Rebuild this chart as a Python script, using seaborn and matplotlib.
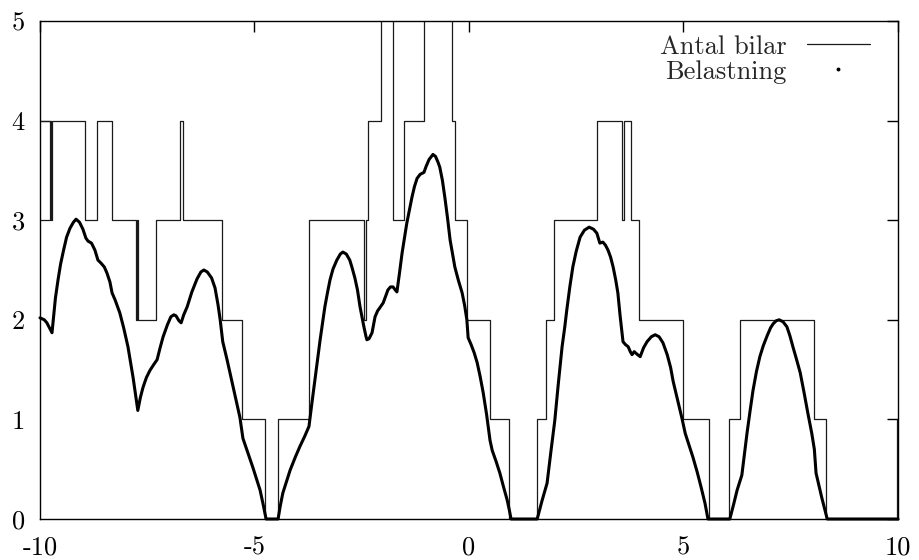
import numpy as np
import pandas as pd
import matplotlib
matplotlib.use("Agg")
import matplotlib.pyplot as plt
from matplotlib.lines import Line2D
import seaborn as sns

# Antal bilar (step series, value holds from x onward; order kept as in the data)
bilar_x = [-10, -9.77, -10, -9.74, -9.72, -8.95, -8.67, -8.32, -7.76, -7.74, -7.72,
           -7.30, -6.74, -6.67, -5.76, -5.29, -4.76, -4.45, -3.73, -2.45, -2.41,
           -2.35, -2.05, -1.77, -1.52, -1.05, -0.40, -0.33, -0.05, 0.49, 0.93,
           1.59, 1.80, 1.98, 2.98, 3.57, 3.61, 3.78, 3.96, 4.99, 5.59, 6.06, 6.32,
           8.04, 8.32, 9.98, 10]
bilar_y = [3, 4, 4, 3, 4, 3, 4, 3, 2, 3, 2,
           3, 4, 3, 2, 1, 0, 1, 3, 2, 3,
           4, 6, 3, 4, 6, 4, 3, 2, 1, 0,
           1, 2, 3, 4, 3, 4, 3, 2, 1, 0, 1, 2,
           1, 0, 1, 1]

# Belastning
last_x = [-10.00, -9.90, -9.84, -9.78, -9.72, -9.68, -9.64, -9.58, -9.52, -9.45,
          -9.38, -9.30, -9.22, -9.16, -9.08, -9.00, -8.93, -8.88, -8.80, -8.72,
          -8.65, -8.58, -8.50, -8.44, -8.37, -8.32, -8.25, -8.14, -8.05, -7.95,
          -7.83, -7.72,
          -7.66, -7.60, -7.52, -7.44, -7.35, -7.27, -7.20, -7.13, -7.03, -6.95,
          -6.88, -6.83, -6.76, -6.71, -6.65, -6.57, -6.46, -6.34, -6.25, -6.18,
          -6.10, -6.00, -5.92, -5.85, -5.80, -5.74, -5.64, -5.50, -5.34, -5.27,
          -5.15, -5.04, -4.95, -4.87, -4.80, -4.73,
          -4.45, -4.40, -4.34, -4.25, -4.17, -4.05, -3.94, -3.83, -3.73, -3.66,
          -3.59, -3.53, -3.47, -3.41, -3.36, -3.30, -3.24, -3.17, -3.08, -3.00,
          -2.94, -2.86, -2.78, -2.73, -2.66, -2.60, -2.54, -2.49, -2.45, -2.40,
          -2.38, -2.33, -2.26, -2.19, -2.13, -2.08, -2.00, -1.94, -1.89, -1.83,
          -1.77, -1.72, -1.68, -1.62, -1.56, -1.50, -1.45, -1.39, -1.33, -1.27,
          -1.21, -1.14, -1.05, -1.00, -0.93, -0.84, -0.78, -0.72, -0.68, -0.62,
          -0.56, -0.50, -0.44, -0.38, -0.33, -0.25, -0.16, -0.10, -0.05, -0.02,
          0.05, 0.12, 0.19, 0.26, 0.33, 0.41, 0.49, 0.54, 0.63, 0.72,
          0.80, 0.89, 0.94, 0.98,
          1.59, 1.70, 1.82, 1.91, 2.00, 2.08, 2.17, 2.23, 2.28, 2.35,
          2.42, 2.50, 2.59, 2.69, 2.80, 2.90, 2.98, 3.05, 3.12, 3.18,
          3.24, 3.30, 3.36, 3.42, 3.47, 3.52, 3.57, 3.59, 3.65, 3.71,
          3.76, 3.80, 3.85, 3.93, 3.99, 4.07, 4.15, 4.25, 4.34, 4.43,
          4.52, 4.62, 4.70, 4.76, 4.87, 4.97, 5.04, 5.13, 5.22, 5.32,
          5.41, 5.50, 5.57,
          6.08, 6.17, 6.25, 6.36, 6.42, 6.48, 6.55, 6.62, 6.70, 6.78,
          6.86, 6.95, 7.03, 7.09, 7.16, 7.23, 7.32, 7.41, 7.48, 7.55,
          7.63, 7.72, 7.81, 7.90, 7.99, 8.05, 8.09, 8.16, 8.22, 8.29,
          8.35, 10.00]
last_y = [2.02, 2.00, 1.97, 1.92, 1.87, 2.05, 2.22, 2.40, 2.56, 2.70,
          2.83, 2.92, 2.98, 3.01, 2.98, 2.91, 2.82, 2.79, 2.77, 2.70,
          2.60, 2.57, 2.53, 2.47, 2.38, 2.27, 2.20, 2.07, 1.92, 1.73,
          1.42, 1.09,
          1.22, 1.32, 1.42, 1.49, 1.55, 1.60, 1.72, 1.83, 1.95, 2.03,
          2.05, 2.04, 1.99, 1.97, 2.05, 2.13, 2.28, 2.41, 2.48, 2.50,
          2.48, 2.42, 2.32, 2.15, 2.00, 1.78, 1.60, 1.33, 1.02, 0.81,
          0.66, 0.52, 0.40, 0.29, 0.15, 0.00,
          0.00, 0.13, 0.26, 0.38, 0.49, 0.62, 0.73, 0.83, 0.93, 1.17,
          1.40, 1.60, 1.80, 1.98, 2.13, 2.27, 2.40, 2.51, 2.60, 2.66,
          2.68, 2.66, 2.60, 2.53, 2.42, 2.30, 2.13, 2.02, 1.93, 1.83,
          1.80, 1.81, 1.87, 2.03, 2.09, 2.12, 2.17, 2.24, 2.30, 2.33,
          2.33, 2.30, 2.28, 2.47, 2.67, 2.83, 2.97, 3.10, 3.23, 3.34,
          3.42, 3.46, 3.48, 3.54, 3.61, 3.66, 3.64, 3.58, 3.53, 3.40,
          3.22, 3.02, 2.80, 2.65, 2.53, 2.40, 2.27, 2.14, 2.00, 1.82,
          1.75, 1.67, 1.57, 1.43, 1.27, 1.05, 0.79, 0.69, 0.58, 0.46,
          0.33, 0.19, 0.09, 0.00,
          0.00, 0.18, 0.36, 0.68, 0.99, 1.35, 1.73, 1.92, 2.10, 2.33,
          2.53, 2.69, 2.83, 2.90, 2.93, 2.91, 2.87, 2.77, 2.78, 2.75,
          2.70, 2.63, 2.53, 2.40, 2.27, 2.05, 1.85, 1.78, 1.75, 1.73,
          1.68, 1.65, 1.68, 1.65, 1.63, 1.72, 1.78, 1.83, 1.85, 1.83,
          1.77, 1.65, 1.52, 1.38, 1.18, 1.00, 0.86, 0.74, 0.62, 0.47,
          0.32, 0.16, 0.00,
          0.00, 0.15, 0.29, 0.44, 0.65, 0.86, 1.08, 1.29, 1.48, 1.63,
          1.74, 1.84, 1.92, 1.96, 1.99, 2.00, 1.98, 1.93, 1.84, 1.73,
          1.61, 1.47, 1.27, 1.06, 0.86, 0.70, 0.46, 0.33, 0.22, 0.10,
          0.00, 0.00]

x_ticks = [-10, -5, 0, 5, 10]
x_labels = ["-10", "-5", "0", "5", "10"]
y_ticks = [0, 1, 2, 3, 4, 5]
y_labels = ["0", "1", "2", "3", "4", "5"]

sns.set_style("white")
plt.rcParams["font.family"] = ["cmr10", "DejaVu Serif"]
plt.rcParams["axes.unicode_minus"] = False

bilar = pd.DataFrame({"x": bilar_x, "y": bilar_y})
last = pd.DataFrame({"x": last_x, "y": last_y})

fig = plt.figure(figsize=(9.2, 5.6), dpi=100)
ax = fig.add_axes([40 / 920, 1 - 519 / 560, 858 / 920, 498 / 560])

sns.lineplot(data=bilar, x="x", y="y", ax=ax, sort=False, estimator=None,
             drawstyle="steps-post", color="#1a1a1a", linewidth=0.9)
sns.lineplot(data=last, x="x", y="y", ax=ax, sort=False, estimator=None,
             color="black", linewidth=2.2, clip_on=False)

ax.set_xlim(-10, 10)
ax.set_ylim(0, 5)
ax.set_xticks(x_ticks, x_labels)
ax.set_yticks(y_ticks, y_labels)
ax.set_xlabel("")
ax.set_ylabel("")
ax.tick_params(direction="in", length=8, width=1, top=True, right=True,
               labelsize=19, colors="black")
ax.tick_params(axis="x", pad=12)
ax.tick_params(axis="y", pad=11)
for s in ax.spines.values():
    s.set_linewidth(1.0)
    s.set_color("black")
    s.set_visible(True)

handles = [Line2D([], [], color="#1a1a1a", linewidth=0.9),
           Line2D([], [], linestyle="none", marker="o", markersize=1.8, color="black")]
ax.legend(handles, ["Antal bilar", "Belastning"], loc="upper right",
          bbox_to_anchor=(0.9674, 0.972), frameon=False, markerfirst=False,
          fontsize=19, handlelength=2.4, handletextpad=0.76, labelspacing=0.05,
          borderpad=0, borderaxespad=0)

fig.savefig("out.png", dpi=100)
